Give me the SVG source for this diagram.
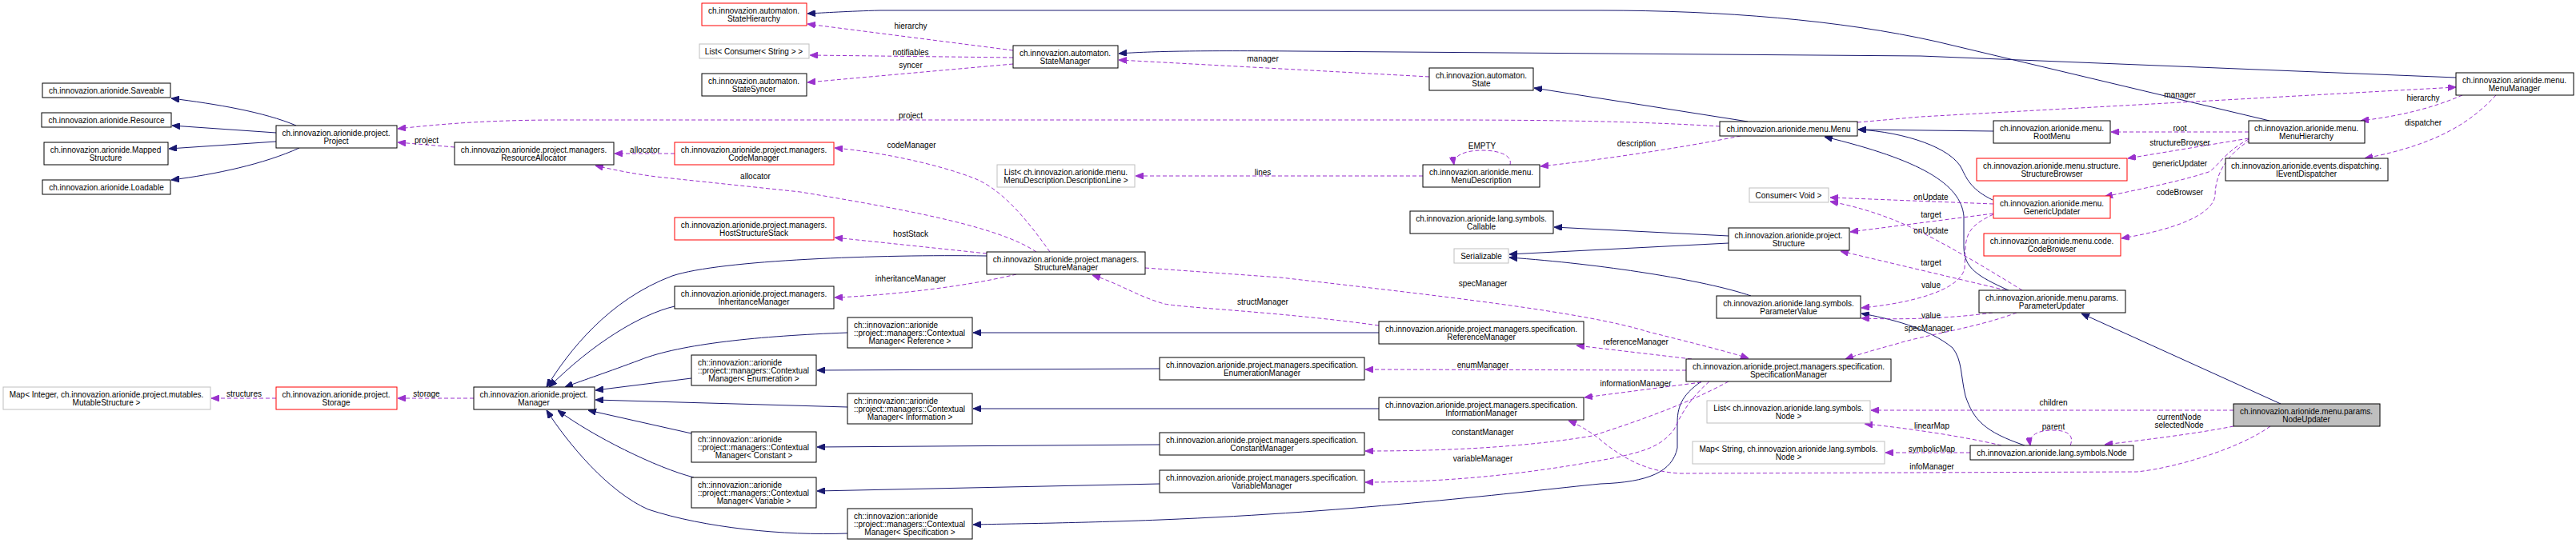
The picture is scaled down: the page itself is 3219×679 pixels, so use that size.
<svg xmlns="http://www.w3.org/2000/svg" width="3219" height="679" viewBox="0 0 3219 679">
<style>
.node rect{fill:#fff;stroke:#000;stroke-width:1}
.node.r rect{stroke:#f00}
.node.g rect{stroke:#bfbfbf}
.node.sel rect{fill:#bfbfbf}
text{font-family:"Liberation Sans",Arial,Helvetica,sans-serif;font-size:10px;fill:#000}
.node text{text-anchor:middle}
.node text.lf{text-anchor:start}
.i{fill:none;stroke:#191970;stroke-width:1;marker-end:url(#ab)}
.u{fill:none;stroke:#9a32cd;stroke-width:1;stroke-dasharray:5,3;marker-end:url(#ap)}
.lab text{text-anchor:middle}
</style>
<defs>
<marker id="ab" viewBox="0 0 10 8" refX="10" refY="4" markerWidth="10" markerHeight="8" markerUnits="userSpaceOnUse" orient="auto"><path d="M0,0L10,4L0,8z" fill="#191970" stroke="#191970" stroke-dasharray="none"/></marker>
<marker id="ap" viewBox="0 0 10 8" refX="10" refY="4" markerWidth="10" markerHeight="8" markerUnits="userSpaceOnUse" orient="auto"><path d="M0,0L10,4L0,8z" fill="#9a32cd" stroke="#9a32cd" stroke-dasharray="none"/></marker>
</defs>
<rect width="3219" height="679" fill="#fff"/>

<g id="edges">
<!-- inheritance -->
<path class="i" d="M370,157 C330,140 270,130 214,123"/>
<path class="i" d="M345,166 L215,157"/>
<path class="i" d="M345,177 L211,186"/>
<path class="i" d="M374,185 C330,205 270,218 214,225"/>
<path class="i" d="M2836,151 L2420,52 C2300,25 2150,13 2000,13 L1100,13 C1060,14 1030,16 1009,17"/>
<path class="i" d="M3069,97 L2400,70 L1620,64 C1500,63 1440,64 1398,67"/>
<path class="i" d="M2184,152 L1917,110"/>
<path class="i" d="M2491,164 L2322,162"/>
<path class="i" d="M2490,250 C2465,238 2458,225 2452,212 C2440,185 2380,165 2322,162"/>
<path class="i" d="M2510,363 C2470,345 2455,335 2454,310 L2454,270 C2450,230 2400,200 2280,171"/>
<path class="i" d="M2160,295 L1942,284"/>
<path class="i" d="M2160,304 L1886,318"/>
<path class="i" d="M2188,370 C2130,350 2000,330 1886,322"/>
<path class="i" d="M2530,557 C2480,540 2466,525 2456,495 C2450,470 2452,450 2440,435 C2410,410 2360,398 2326,392"/>
<path class="i" d="M2850,505 L2601,392"/>
<path class="i" d="M1233,320 C1100,318 900,325 840,345 C760,375 710,440 683,484"/>
<path class="i" d="M843,383 C800,393 740,430 686,484"/>
<path class="i" d="M1059,416 C950,420 850,430 800,450 C760,465 730,475 706,484"/>
<path class="i" d="M864,473 L744,488"/>
<path class="i" d="M1059,509 L744,500"/>
<path class="i" d="M864,542 L735,513"/>
<path class="i" d="M867,597 C820,585 740,545 697,513"/>
<path class="i" d="M1059,667 C980,670 880,660 810,637 C760,615 710,555 683,513"/>
<path class="i" d="M1723,416 L1216,416"/>
<path class="i" d="M1449,461 L1021,463"/>
<path class="i" d="M1723,511 L1216,511"/>
<path class="i" d="M1449,556 L1021,559"/>
<path class="i" d="M1449,605 L1021,614"/>
<path class="i" d="M2126,477 C2100,495 2096,510 2096,530 L2096,560 C2090,590 2060,603 2000,605 C1900,615 1700,640 1450,650 C1350,654 1260,655 1216,656"/>
<!-- usage -->
<path class="u" d="M592,498 L497,498"/>
<path class="u" d="M345,498 L264,498"/>
<path class="u" d="M568,184 L497,178"/>
<path class="u" d="M2149,158 C2050,152 1950,150 1800,150 L700,150 C620,150 560,154 497,161"/>
<path class="u" d="M843,192 L768,192"/>
<path class="u" d="M1295,315 C1250,285 1150,265 1000,240 L820,221 C790,217 765,212 744,207"/>
<path class="u" d="M1266,63 L1009,30"/>
<path class="u" d="M1266,72 L1012,69"/>
<path class="u" d="M1266,80 L1009,103"/>
<path class="u" d="M1786,96 L1398,75"/>
<path class="u" d="M1312,315 C1280,270 1250,235 1215,222 C1170,205 1100,190 1043,185"/>
<path class="u" d="M1233,317 L1043,297"/>
<path class="u" d="M1270,343 C1200,360 1100,370 1043,372"/>
<path class="u" d="M1723,407 C1600,390 1480,385 1455,380 C1420,370 1400,355 1365,344"/>
<path class="u" d="M1431,335 L1600,347 C1800,370 1980,390 2060,415 C2120,430 2160,440 2185,448"/>
<path class="u" d="M2520,391 C2470,410 2400,420 2370,430 C2340,438 2320,444 2306,449"/>
<path class="u" d="M2114,449 L1970,432"/>
<path class="u" d="M2107,463 L1706,462"/>
<path class="u" d="M2126,478 L1980,497"/>
<path class="u" d="M2160,477 C2100,510 2020,535 1990,545 C1900,560 1800,564 1706,564"/>
<path class="u" d="M2136,477 C2110,500 2100,520 2092,537 C2075,560 2050,565 2020,572 C1900,595 1800,603 1706,603"/>
<path class="u" d="M2837,533 C2800,560 2720,585 2670,590 L2100,592 C2060,590 2030,575 2000,550 C1985,538 1970,530 1960,526"/>
<path class="u" d="M2175,170 C2100,185 2000,200 1925,208"/>
<path class="u" d="M1887,206 C1890,195 1875,188 1852,188 C1830,188 1815,195 1817,206"/>
<path class="u" d="M1778,220 L1419,220"/>
<path class="u" d="M2321,153 L2400,146 L3069,109"/>
<path class="u" d="M3077,119 C3040,135 3000,145 2950,151"/>
<path class="u" d="M3119,119 C3090,150 3050,180 2955,198"/>
<path class="u" d="M2810,165 L2638,165"/>
<path class="u" d="M2810,173 L2659,198"/>
<path class="u" d="M2810,174 C2780,190 2770,210 2760,215 C2720,228 2680,235 2630,246"/>
<path class="u" d="M2812,175 C2780,195 2768,220 2768,245 C2765,265 2730,285 2651,298"/>
<path class="u" d="M2491,255 L2287,247"/>
<path class="u" d="M2491,267 L2312,290"/>
<path class="u" d="M2527,363 C2490,340 2440,310 2400,290 C2360,270 2320,258 2287,252"/>
<path class="u" d="M2507,363 L2300,314"/>
<path class="u" d="M2491,268 C2465,280 2457,290 2456,310 L2455,335 C2450,365 2380,380 2326,385"/>
<path class="u" d="M2490,391 C2440,398 2380,400 2326,398"/>
<path class="u" d="M2791,513 L2338,513"/>
<path class="u" d="M2501,557 C2450,545 2380,535 2330,530"/>
<path class="u" d="M2462,566 L2356,566"/>
<path class="u" d="M2587,557 C2592,545 2585,538 2565,538 C2545,538 2535,545 2537,557"/>
<path class="u" d="M2791,533 C2740,543 2680,550 2630,556"/>
<g class="lab">
<text x="533" y="496">storage</text>
<text x="305" y="496">structures</text>
<text x="533" y="179">project</text>
<text x="1138" y="148">project</text>
<text x="806" y="191">allocator</text>
<text x="944" y="224">allocator</text>
<text x="1138" y="36">hierarchy</text>
<text x="1138" y="69">notifiables</text>
<text x="1138" y="85">syncer</text>
<text x="1578" y="77">manager</text>
<text x="1139" y="185">codeManager</text>
<text x="1578" y="219">lines</text>
<text x="1138" y="296">hostStack</text>
<text x="1138" y="352">inheritanceManager</text>
<text x="1578" y="381">structManager</text>
<text x="1853" y="358">specManager</text>
<text x="2044" y="431">referenceManager</text>
<text x="1853" y="460">enumManager</text>
<text x="2044" y="483">informationManager</text>
<text x="1853" y="544">constantManager</text>
<text x="1853" y="577">variableManager</text>
<text x="1852" y="186">EMPTY</text>
<text x="2045" y="183">description</text>
<text x="2724" y="122">manager</text>
<text x="3028" y="126">hierarchy</text>
<text x="3028" y="157">dispatcher</text>
<text x="2724" y="164">root</text>
<text x="2724" y="182">structureBrowser</text>
<text x="2724" y="208">genericUpdater</text>
<text x="2724" y="244">codeBrowser</text>
<text x="2413" y="250">onUpdate</text>
<text x="2413" y="272">target</text>
<text x="2413" y="292">onUpdate</text>
<text x="2413" y="332">target</text>
<text x="2413" y="360">value</text>
<text x="2413" y="398">value</text>
<text x="2410" y="414">specManager</text>
<text x="2566" y="507">children</text>
<text x="2566" y="537">parent</text>
<text x="2723" y="525">currentNode</text>
<text x="2723" y="535">selectedNode</text>
<text x="2414" y="536">linearMap</text>
<text x="2414" y="565">symbolicMap</text>
<text x="2414" y="587">infoManager</text>
</g>
</g>

<g id="saveable" class="node"><rect x="53" y="104" width="160" height="18"/><text x="133" y="117">ch.innovazion.arionide.Saveable</text></g>
<g id="resource" class="node"><rect x="52" y="141" width="162" height="18"/><text x="133" y="154">ch.innovazion.arionide.Resource</text></g>
<g id="mappedstructure" class="node"><rect x="55" y="178" width="155" height="28"/><text x="132" y="191">ch.innovazion.arionide.Mapped</text><text x="132" y="201">Structure</text></g>
<g id="loadable" class="node"><rect x="53" y="225" width="160" height="18"/><text x="133" y="238">ch.innovazion.arionide.Loadable</text></g>
<g id="mapinteger" class="node g"><rect x="4" y="484" width="259" height="28"/><text x="133" y="497">Map&lt; Integer, ch.innovazion.arionide.project.mutables.</text><text x="133" y="507">MutableStructure &gt;</text></g>
<g id="project" class="node"><rect x="345" y="157" width="151" height="28"/><text x="420" y="170">ch.innovazion.arionide.project.</text><text x="420" y="180">Project</text></g>
<g id="storage" class="node r"><rect x="345" y="484" width="151" height="28"/><text x="420" y="497">ch.innovazion.arionide.project.</text><text x="420" y="507">Storage</text></g>
<g id="resourceallocator" class="node"><rect x="568" y="178" width="199" height="28"/><text x="667" y="191">ch.innovazion.arionide.project.managers.</text><text x="667" y="201">ResourceAllocator</text></g>
<g id="manager" class="node"><rect x="592" y="484" width="151" height="28"/><text x="667" y="497">ch.innovazion.arionide.project.</text><text x="667" y="507">Manager</text></g>
<g id="statehierarchy" class="node r"><rect x="877" y="4" width="131" height="28"/><text x="942" y="17">ch.innovazion.automaton.</text><text x="942" y="27">StateHierarchy</text></g>
<g id="listconsumerstring" class="node g"><rect x="874" y="55" width="137" height="18"/><text x="942" y="68">List&lt; Consumer&lt; String &gt; &gt;</text></g>
<g id="statesyncer" class="node"><rect x="877" y="92" width="131" height="28"/><text x="942" y="105">ch.innovazion.automaton.</text><text x="942" y="115">StateSyncer</text></g>
<g id="codemanager" class="node r"><rect x="843" y="178" width="199" height="28"/><text x="942" y="191">ch.innovazion.arionide.project.managers.</text><text x="942" y="201">CodeManager</text></g>
<g id="hoststructurestack" class="node r"><rect x="843" y="272" width="199" height="28"/><text x="942" y="285">ch.innovazion.arionide.project.managers.</text><text x="942" y="295">HostStructureStack</text></g>
<g id="inheritancemanager" class="node"><rect x="843" y="358" width="199" height="28"/><text x="942" y="371">ch.innovazion.arionide.project.managers.</text><text x="942" y="381">InheritanceManager</text></g>
<g id="cm-enumeration" class="node"><rect x="864" y="444" width="156" height="38"/><text class="lf" x="872" y="457">ch::innovazion::arionide</text><text class="lf" x="872" y="467">::project::managers::Contextual</text><text x="942" y="477">Manager&lt; Enumeration &gt;</text></g>
<g id="cm-constant" class="node"><rect x="864" y="540" width="156" height="38"/><text class="lf" x="872" y="553">ch::innovazion::arionide</text><text class="lf" x="872" y="563">::project::managers::Contextual</text><text x="942" y="573">Manager&lt; Constant &gt;</text></g>
<g id="cm-variable" class="node"><rect x="864" y="597" width="156" height="38"/><text class="lf" x="872" y="610">ch::innovazion::arionide</text><text class="lf" x="872" y="620">::project::managers::Contextual</text><text x="942" y="630">Manager&lt; Variable &gt;</text></g>
<g id="statemanager" class="node"><rect x="1266" y="57" width="131" height="28"/><text x="1331" y="70">ch.innovazion.automaton.</text><text x="1331" y="80">StateManager</text></g>
<g id="listdescriptionline" class="node g"><rect x="1246" y="206" width="172" height="28"/><text x="1332" y="219">List&lt; ch.innovazion.arionide.menu.</text><text x="1332" y="229">MenuDescription.DescriptionLine &gt;</text></g>
<g id="structuremanager" class="node"><rect x="1233" y="315" width="198" height="28"/><text x="1332" y="328">ch.innovazion.arionide.project.managers.</text><text x="1332" y="338">StructureManager</text></g>
<g id="cm-reference" class="node"><rect x="1059" y="397" width="156" height="38"/><text class="lf" x="1067" y="410">ch::innovazion::arionide</text><text class="lf" x="1067" y="420">::project::managers::Contextual</text><text x="1137" y="430">Manager&lt; Reference &gt;</text></g>
<g id="cm-information" class="node"><rect x="1059" y="492" width="156" height="38"/><text class="lf" x="1067" y="505">ch::innovazion::arionide</text><text class="lf" x="1067" y="515">::project::managers::Contextual</text><text x="1137" y="525">Manager&lt; Information &gt;</text></g>
<g id="cm-specification" class="node"><rect x="1059" y="636" width="156" height="38"/><text class="lf" x="1067" y="649">ch::innovazion::arionide</text><text class="lf" x="1067" y="659">::project::managers::Contextual</text><text x="1137" y="669">Manager&lt; Specification &gt;</text></g>
<g id="enumerationmanager" class="node"><rect x="1449" y="447" width="256" height="28"/><text x="1577" y="460">ch.innovazion.arionide.project.managers.specification.</text><text x="1577" y="470">EnumerationManager</text></g>
<g id="constantmanager" class="node"><rect x="1449" y="541" width="256" height="28"/><text x="1577" y="554">ch.innovazion.arionide.project.managers.specification.</text><text x="1577" y="564">ConstantManager</text></g>
<g id="variablemanager" class="node"><rect x="1449" y="588" width="256" height="28"/><text x="1577" y="601">ch.innovazion.arionide.project.managers.specification.</text><text x="1577" y="611">VariableManager</text></g>
<g id="referencemanager" class="node"><rect x="1723" y="402" width="256" height="28"/><text x="1851" y="415">ch.innovazion.arionide.project.managers.specification.</text><text x="1851" y="425">ReferenceManager</text></g>
<g id="informationmanager" class="node"><rect x="1723" y="497" width="256" height="28"/><text x="1851" y="510">ch.innovazion.arionide.project.managers.specification.</text><text x="1851" y="520">InformationManager</text></g>
<g id="state" class="node"><rect x="1786" y="85" width="130" height="28"/><text x="1851" y="98">ch.innovazion.automaton.</text><text x="1851" y="108">State</text></g>
<g id="menudescription" class="node"><rect x="1778" y="206" width="146" height="28"/><text x="1851" y="219">ch.innovazion.arionide.menu.</text><text x="1851" y="229">MenuDescription</text></g>
<g id="callable" class="node"><rect x="1762" y="264" width="179" height="28"/><text x="1851" y="277">ch.innovazion.arionide.lang.symbols.</text><text x="1851" y="287">Callable</text></g>
<g id="serializable" class="node g"><rect x="1817" y="311" width="68" height="18"/><text x="1851" y="324">Serializable</text></g>
<g id="menu" class="node"><rect x="2149" y="152" width="172" height="18"/><text x="2235" y="165">ch.innovazion.arionide.menu.Menu</text></g>
<g id="consumervoid" class="node g"><rect x="2186" y="235" width="99" height="18"/><text x="2235" y="248">Consumer&lt; Void &gt;</text></g>
<g id="structure" class="node"><rect x="2160" y="285" width="151" height="28"/><text x="2235" y="298">ch.innovazion.arionide.project.</text><text x="2235" y="308">Structure</text></g>
<g id="parametervalue" class="node"><rect x="2145" y="370" width="180" height="28"/><text x="2235" y="383">ch.innovazion.arionide.lang.symbols.</text><text x="2235" y="393">ParameterValue</text></g>
<g id="specificationmanager" class="node"><rect x="2107" y="449" width="256" height="28"/><text x="2235" y="462">ch.innovazion.arionide.project.managers.specification.</text><text x="2235" y="472">SpecificationManager</text></g>
<g id="listnode" class="node g"><rect x="2133" y="501" width="204" height="28"/><text x="2235" y="514">List&lt; ch.innovazion.arionide.lang.symbols.</text><text x="2235" y="524">Node &gt;</text></g>
<g id="mapstringnode" class="node g"><rect x="2115" y="552" width="240" height="28"/><text x="2235" y="565">Map&lt; String, ch.innovazion.arionide.lang.symbols.</text><text x="2235" y="575">Node &gt;</text></g>
<g id="rootmenu" class="node"><rect x="2491" y="151" width="146" height="28"/><text x="2564" y="164">ch.innovazion.arionide.menu.</text><text x="2564" y="174">RootMenu</text></g>
<g id="structurebrowser" class="node r"><rect x="2470" y="198" width="188" height="28"/><text x="2564" y="211">ch.innovazion.arionide.menu.structure.</text><text x="2564" y="221">StructureBrowser</text></g>
<g id="genericupdater" class="node r"><rect x="2491" y="245" width="146" height="28"/><text x="2564" y="258">ch.innovazion.arionide.menu.</text><text x="2564" y="268">GenericUpdater</text></g>
<g id="codebrowser" class="node r"><rect x="2479" y="292" width="171" height="28"/><text x="2564" y="305">ch.innovazion.arionide.menu.code.</text><text x="2564" y="315">CodeBrowser</text></g>
<g id="parameterupdater" class="node"><rect x="2473" y="363" width="183" height="28"/><text x="2564" y="376">ch.innovazion.arionide.menu.params.</text><text x="2564" y="386">ParameterUpdater</text></g>
<g id="node" class="node"><rect x="2462" y="557" width="204" height="18"/><text x="2564" y="570">ch.innovazion.arionide.lang.symbols.Node</text></g>
<g id="menuhierarchy" class="node"><rect x="2810" y="151" width="145" height="28"/><text x="2882" y="164">ch.innovazion.arionide.menu.</text><text x="2882" y="174">MenuHierarchy</text></g>
<g id="ieventdispatcher" class="node"><rect x="2781" y="198" width="203" height="28"/><text x="2882" y="211">ch.innovazion.arionide.events.dispatching.</text><text x="2882" y="221">IEventDispatcher</text></g>
<g id="nodeupdater" class="node sel"><rect x="2791" y="505" width="183" height="28"/><text x="2882" y="518">ch.innovazion.arionide.menu.params.</text><text x="2882" y="528">NodeUpdater</text></g>
<g id="menumanager" class="node"><rect x="3069" y="91" width="147" height="28"/><text x="3142" y="104">ch.innovazion.arionide.menu.</text><text x="3142" y="114">MenuManager</text></g>
</svg>
